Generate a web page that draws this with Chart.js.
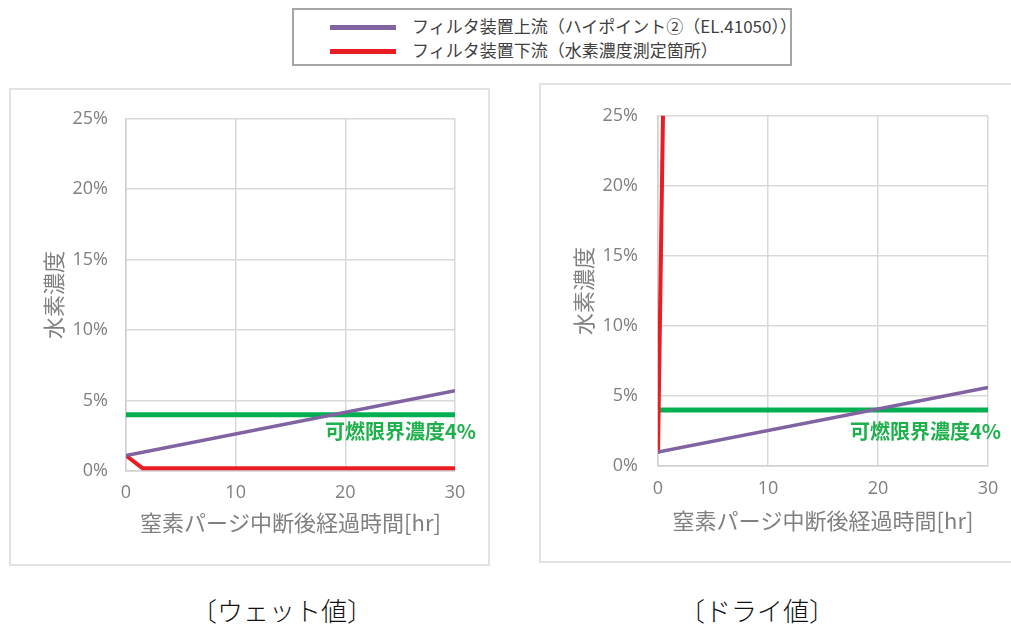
<!DOCTYPE html>
<html>
<head>
<meta charset="utf-8">
<script src="https://cdn.jsdelivr.net/npm/chart.js@4.4.1/dist/chart.umd.min.js"></script>
<style>
  html, body { margin: 0; padding: 0; background: #ffffff; width: 1011px; height: 627px; overflow: hidden; position: relative; font-family: "Noto Sans CJK JP", "Noto Sans", sans-serif; }
  .legend { position: absolute; left: 292px; top: 8px; width: 500px; height: 58px; box-sizing: border-box; border: 2px solid #a6a6a6; background: #fff; }
  .legItem { position: absolute; left: 36px; height: 20px; }
  .legItem .sw { position: absolute; left: 0; top: 8px; width: 66px; height: 5px; }
  .legItem .tx { position: absolute; left: 82px; top: -2px; white-space: nowrap; font-size: 17px; color: #404040; line-height: 22px; }
  .panel { position: absolute; box-sizing: border-box; border: 2px solid #e3e3e3; background: #fff; }
  .panel canvas { position: absolute; left: 0; top: 0; }
  .caption { position: absolute; top: 591px; font-size: 26px; color: #111; white-space: nowrap; font-weight: 300; transform: translateX(-50%); }
</style>
</head>
<body>
<div class="legend" id="legend"></div>
<div class="panel" style="left:9px; top:88px; width:481px; height:478px;"><canvas id="wet" width="477" height="474"></canvas></div>
<div class="panel" style="left:539px; top:83px; width:476px; height:480px;"><canvas id="dry" width="472" height="476"></canvas></div>
<div class="caption" id="capWet" style="left:282px;"></div>
<div class="caption" id="capDry" style="left:757px;"></div>
<script>
// ---- data (values in %) ----
const seriesNames = ["フィルタ装置上流（ハイポイント②（EL.41050））", "フィルタ装置下流（水素濃度測定箇所）"];
const seriesColors = ["#8064a2", "#ea1c24"];
const panelCaptions = ["〔ウェット値〕", "〔ドライ値〕"];
const xTicks = [0, 10, 20, 30];
const yTicks = [0, 5, 10, 15, 20, 25];
const yTitle = "水素濃度";
const xTitle = "窒素パージ中断後経過時間[hr]";
const lflLabel = "可燃限界濃度4%";
const lflValue = 4;
const lflRange = [0, 30];

// ウェット値
const wetUpstreamX = [0, 30];
const wetUpstreamY = [1.1, 5.7];
const wetDownstreamX = [0, 1.5, 30];
const wetDownstreamY = [1.1, 0.2, 0.2];
// ドライ値
const dryUpstreamX = [0, 30];
const dryUpstreamY = [1.0, 5.6];
const dryDownstreamX = [0, 0.5];
const dryDownstreamY = [0.9, 27.6];

// ---- legend & captions (text) ----
const legend = document.getElementById('legend');
seriesNames.forEach((n, i) => {
  const d = document.createElement('div');
  d.className = 'legItem';
  d.style.top = (i === 0 ? 7 : 31) + 'px';
  d.innerHTML = '<div class="sw" style="background:' + seriesColors[i] + '"></div><div class="tx"></div>';
  d.querySelector('.tx').textContent = n;
  legend.appendChild(d);
});
document.getElementById('capWet').textContent = panelCaptions[0];
document.getElementById('capDry').textContent = panelCaptions[1];

function pts(xs, ys) { return xs.map((x, i) => ({ x: x, y: ys[i] })); }

const lflPlugin = {
  id: 'lflLabel',
  afterDatasetsDraw(chart, args, opts) {
    const ctx = chart.ctx;
    const xs = chart.scales.x, ys = chart.scales.y;
    ctx.save();
    ctx.font = 'bold 20px "Noto Sans CJK JP", sans-serif';
    ctx.fillStyle = '#1fb04d';
    ctx.textAlign = 'right';
    ctx.textBaseline = 'middle';
    ctx.fillText(lflLabel, xs.getPixelForValue(lflRange[1]) + opts.dx, ys.getPixelForValue(lflValue) + opts.dy);
    ctx.restore();
  }
};

function makeChart(id, up, down, lay) {
  const ctx = document.getElementById(id);
  return new Chart(ctx, {
    type: 'line',
    data: {
      datasets: [
        { label: 'lfl', data: pts(lflRange, [lflValue, lflValue]), borderColor: '#00b050', borderWidth: 5, pointRadius: 0, tension: 0, order: 3 },
        { label: seriesNames[1], data: down, borderColor: seriesColors[1], borderWidth: 4, pointRadius: 0, tension: 0, order: 2 },
        { label: seriesNames[0], data: up, borderColor: seriesColors[0], borderWidth: 3.5, pointRadius: 0, tension: 0, order: 1 }
      ]
    },
    plugins: [lflPlugin],
    options: {
      responsive: false,
      animation: false,
      devicePixelRatio: 1,
      layout: { padding: { left: 0, top: lay.top, right: lay.right, bottom: 0 } },
      plugins: { legend: { display: false }, tooltip: { enabled: false }, lflLabel: { dx: lay.lblDx, dy: lay.lblDy } },
      scales: {
        x: {
          type: 'linear', min: xTicks[0], max: xTicks[xTicks.length - 1],
          afterBuildTicks: (s) => { s.ticks = xTicks.map(v => ({ value: v })); },
          afterFit: (s) => { s.height = lay.xH; },
          grid: { color: '#d9d9d9', lineWidth: 1.5, drawTicks: false },
          border: { color: '#d0d0d0', width: 1.5 },
          ticks: { padding: lay.xPad, color: '#7f7f7f', font: { family: '"Open Sans", sans-serif', size: 18 } },
          title: { display: true, text: xTitle, color: '#808080', font: { family: '"Noto Sans CJK JP", sans-serif', size: 22 }, padding: { top: 0, bottom: lay.xTitlePad } }
        },
        y: {
          type: 'linear', min: yTicks[0], max: yTicks[yTicks.length - 1],
          afterBuildTicks: (s) => { s.ticks = yTicks.map(v => ({ value: v })); },
          afterFit: (s) => { s.width = lay.yW; },
          grid: { color: '#d9d9d9', lineWidth: 1.5, drawTicks: false },
          border: { color: '#d0d0d0', width: 1.5 },
          ticks: { padding: lay.yPad, color: '#7f7f7f', font: { family: '"Open Sans", sans-serif', size: 18 }, callback: (v) => v + '%' },
          title: { display: true, text: yTitle, color: '#808080', font: { family: '"Noto Sans CJK JP", sans-serif', size: 22 }, padding: { top: lay.yTitlePad, bottom: 0 } }
        }
      }
    }
  });
}

makeChart('wet', pts(wetUpstreamX, wetUpstreamY), pts(wetDownstreamX, wetDownstreamY),
  { top: 24, right: 33, xH: 93, yW: 115, xPad: 11, yPad: 18, xTitlePad: 28, yTitlePad: 29, lblDx: 21, lblDy: 17 });
makeChart('dry', pts(dryUpstreamX, dryUpstreamY), pts(dryDownstreamX, dryDownstreamY),
  { top: 23, right: 25, xH: 95, yW: 117, xPad: 12, yPad: 20, xTitlePad: 27, yTitlePad: 29, lblDx: 13, lblDy: 21 });
</script>
</body>
</html>
